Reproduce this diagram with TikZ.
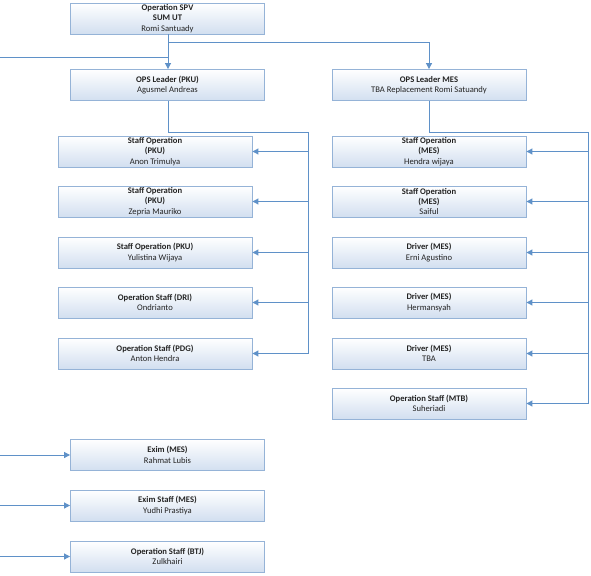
\documentclass[tikz,border=0pt]{standalone}
\usepackage{fontspec}
\setmainfont{Carlito}
\usetikzlibrary{arrows.meta}
\definecolor{boxline}{RGB}{149,179,215}
\definecolor{boxfill}{RGB}{210,223,240}
\definecolor{conn}{RGB}{95,145,200}
\definecolor{txt}{RGB}{35,35,35}
\tikzset{
  orgbox/.style={draw=boxline, line width=0.9pt, top color=white, bottom color=boxfill,
    minimum width=194pt, minimum height=31pt, inner sep=0pt, align=center,
    font=\fontsize{8.6}{10.4}\selectfont, text=txt},
  link/.style={draw=conn, line width=1pt},
  arr/.style={link, -{Triangle[length=6pt,width=6pt]}}
}
\newcommand{\hd}[1]{\textbf{#1}}
\begin{document}
\begin{tikzpicture}[x=1pt,y=-1pt]
\useasboundingbox (0,0) rectangle (591,575);
% top
\node[orgbox] (spv) at (167.5,18.5) {\hd{Operation SPV}\\\hd{SUM UT}\\Romi Santuady};
\node[orgbox] (lpku) at (167.5,85) {\hd{OPS Leader (PKU)}\\Agusmel Andreas};
\node[orgbox] (lmes) at (429,85) {\hd{OPS Leader MES}\\TBA Replacement Romi Satuandy};
% left column
\node[orgbox] (p1) at (155,151.5) {\hd{Staff Operation}\\\hd{(PKU)}\\Anon Trimulya};
\node[orgbox] (p2) at (155,201.5) {\hd{Staff Operation}\\\hd{(PKU)}\\Zepria Mauriko};
\node[orgbox] (p3) at (155,252.5) {\hd{Staff Operation (PKU)}\\Yulistina Wijaya};
\node[orgbox] (p4) at (155,302.5) {\hd{Operation Staff (DRI)}\\Ondrianto};
\node[orgbox] (p5) at (155,353.5) {\hd{Operation Staff (PDG)}\\Anton Hendra};
% right column
\node[orgbox] (m1) at (429,151.5) {\hd{Staff Operation}\\\hd{(MES)}\\Hendra wijaya};
\node[orgbox] (m2) at (429,201.5) {\hd{Staff Operation}\\\hd{(MES)}\\Saiful};
\node[orgbox] (m3) at (429,252.5) {\hd{Driver (MES)}\\Erni Agustino};
\node[orgbox] (m4) at (429,302.5) {\hd{Driver (MES)}\\Hermansyah};
\node[orgbox] (m5) at (429,353.5) {\hd{Driver (MES)}\\TBA};
\node[orgbox] (m6) at (429,403.5) {\hd{Operation Staff (MTB)}\\Suheriadi};
% bottom
\node[orgbox] (e1) at (167.5,455) {\hd{Exim (MES)}\\Rahmat Lubis};
\node[orgbox] (e2) at (167.5,505.5) {\hd{Exim Staff (MES)}\\Yudhi Prastiya};
\node[orgbox] (e3) at (167.5,556.5) {\hd{Operation Staff (BTJ)}\\Zulkhairi};
% coordinates
\coordinate (j1) at (168,43);
\coordinate (j2) at (429,43);
\coordinate (j3) at (168,58);
\coordinate (lb) at (-2,58);
\coordinate (pb) at (308,132);
\coordinate (pa) at (168,132);
\coordinate (mb) at (588,132);
\coordinate (ma) at (429,132);
% connectors
\draw[arr] (spv.south -| j1) -- (lpku.north -| j1);
\draw[arr] (j1) -- (j2) -- (lmes.north -| j2);
\draw[link] (j3) -- (lb) -- (lb |- e3);
\foreach \n in {e1,e2,e3} \draw[arr] (lb |- \n) -- (\n.west);
\draw[link] (lpku.south -| pa) -- (pa) -- (pb) -- (pb |- p5);
\foreach \n in {p1,p2,p3,p4,p5} \draw[arr] (pb |- \n) -- (\n.east);
\draw[link] (lmes.south -| ma) -- (ma) -- (mb) -- (mb |- m6);
\foreach \n in {m1,m2,m3,m4,m5,m6} \draw[arr] (mb |- \n) -- (\n.east);
\end{tikzpicture}
\end{document}
